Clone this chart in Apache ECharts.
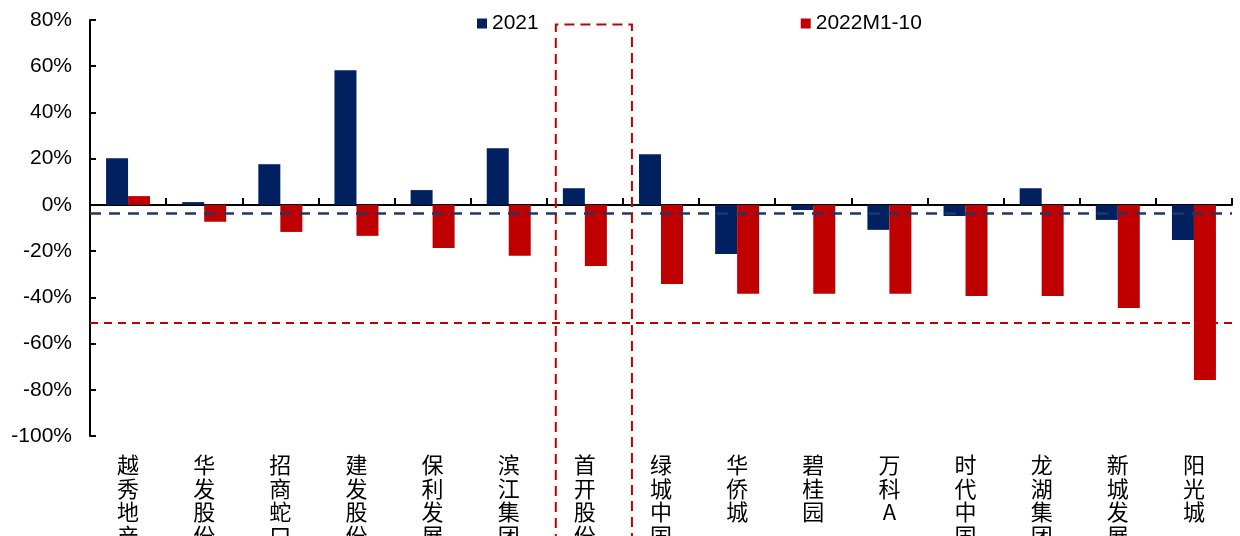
<!DOCTYPE html>
<html>
<head>
<meta charset="utf-8">
<script src="https://cdn.jsdelivr.net/npm/echarts@6/dist/echarts.min.js"></script>
<style>
html,body{margin:0;padding:0;background:#fff;}
#ChangeBar{width:1240px;height:536px;}
</style>
</head>
<body>
<div id="ChangeBar"></div>
<script>
var companies = ['越秀地产','华发股份','招商蛇口','建发股份','保利发展','滨江集团','首开股份','绿城中国','华侨城','碧桂园','万科A','时代中国','龙湖集团','新城发展','阳光城'];
var data2021 = [20.2, 1.2, 17.6, 58.3, 6.4, 24.5, 7.2, 21.9, -21.2, -2.2, -10.8, -4.8, 7.2, -6.5, -15.2];
var data2022 = [3.8, -7.3, -11.7, -13.4, -18.7, -22.0, -26.4, -34.2, -38.5, -38.5, -38.5, -39.4, -39.4, -44.6, -75.8];
var seriesNames = ['2021', '2022M1-10'];
var avgLine2021 = -3.6;   // 蓝色虚线
var avgLine2022 = -51.2;  // 红色虚线
var boxCompany = '首开股份';

(function(){
	var dom = document.getElementById("ChangeBar");
	var chart = echarts.init(dom);
	var fontEn = "Arial, 'Liberation Sans', 'Noto Sans CJK SC', sans-serif";
	var fontCn = "'Noto Sans CJK SC', 'Liberation Sans', sans-serif";

	var option = {
		animation: false,
		backgroundColor: '#fff',
		textStyle: {fontFamily: fontEn},
		legend: {
			left: 477,
			top: 13,
			padding: 0,
			itemWidth: 10,
			itemHeight: 10,
			itemGap: 262,
			icon: 'rect',
			textStyle: {fontSize: 21, color: '#000', fontFamily: fontEn},
			data: seriesNames
		},
		grid: {left: 90, right: 8, top: 20, bottom: 100, containLabel: false, outerBoundsMode: 'none'},
		xAxis: [
			{	// 底部的公司名称
				type: 'category',
				data: companies,
				position: 'bottom',
				axisLine: {show: false, onZero: false},
				axisTick: {show: false},
				axisLabel: {
					interval: 0,
					margin: 17,
					fontSize: 22,
					lineHeight: 23.5,
					color: '#000',
					fontFamily: fontCn,
					formatter: function(v){ return v.split('').join('\n'); }
				}
			},
			{	// 0轴上的横线和刻度
				type: 'category',
				data: companies,
				position: 'top',
				axisLine: {show: true, onZero: true, lineStyle: {color: '#000', width: 2}},
				axisTick: {show: true, length: 7, lineStyle: {color: '#000', width: 2}},
				axisLabel: {show: false}
			}
		],
		yAxis: {
			type: 'value',
			min: -100,
			max: 80,
			interval: 20,
			axisLine: {show: true, lineStyle: {color: '#000', width: 2}},
			axisTick: {show: true, inside: true, length: 6, lineStyle: {color: '#000', width: 2}},
			splitLine: {show: false},
			axisLabel: {
				fontSize: 21,
				color: '#000',
				margin: 18,
				fontFamily: fontEn,
				formatter: '{value}%'
			}
		},
		series: [
			{
				name: seriesNames[0],
				type: 'bar',
				xAxisIndex: 0,
				barWidth: 22,
				barGap: '0%',
				itemStyle: {color: '#002060'},
				data: data2021,
				markLine: {
					silent: true,
					symbol: 'none',
					label: {show: false},
					lineStyle: {color: '#1F3864', width: 2.5, type: [11, 8]},
					data: [{yAxis: avgLine2021}]
				}
			},
			{
				name: seriesNames[1],
				type: 'bar',
				xAxisIndex: 0,
				barWidth: 22,
				barGap: '0%',
				itemStyle: {color: '#C00000'},
				data: data2022,
				markLine: {
					silent: true,
					symbol: 'none',
					label: {show: false},
					lineStyle: {color: '#C00000', width: 2, type: [8, 6]},
					data: [{yAxis: avgLine2022}]
				}
			}
		]
	};
	chart.setOption(option);

	/************ 首开股份的红色虚线框 ************/
	var cx = chart.convertToPixel({xAxisIndex: 0}, boxCompany);
	var bw = chart.convertToPixel({xAxisIndex: 0}, companies[1]) - chart.convertToPixel({xAxisIndex: 0}, companies[0]);
	var topY = chart.convertToPixel({yAxisIndex: 0}, 78);
	chart.setOption({
		graphic: [{
			type: 'polyline',
			silent: true,
			z: 100,
			shape: {points: [[cx - bw/2 + 9, 560], [cx - bw/2 + 9, topY], [cx + bw/2 + 9, topY], [cx + bw/2 + 9, 560]]},
			style: {fill: null, stroke: '#C00000', lineWidth: 2, lineDash: [10, 6]}
		}]
	});
})();
</script>
</body>
</html>
